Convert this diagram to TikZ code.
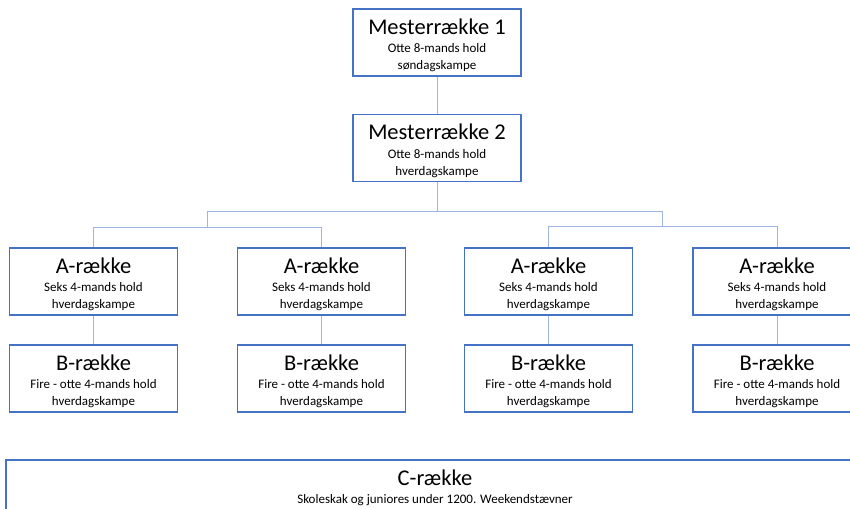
\documentclass[tikz,border=0pt]{standalone}
\usepackage{fontspec}
\setmainfont{Carlito}
\definecolor{boxblue}{HTML}{4472C4}
\definecolor{connblue}{HTML}{9DB5E0}
\newcommand{\bxt}[3]{\parbox{166pt}{\centering\vspace*{6pt}\fontsize{22.5}{25}\selectfont #1\par\vspace{1.5pt}\fontsize{13}{17}\selectfont #2\\#3\par}}
\newcommand{\bxc}[2]{\parbox{800pt}{\centering\fontsize{22.5}{25}\selectfont #1\par\vspace{1pt}\fontsize{13}{17}\selectfont #2\par}}
\tikzset{
  orgbox/.style={draw=boxblue, line width=1.8pt, fill=white, minimum width=168pt, minimum height=67pt, inner sep=0pt, align=center},
  conn/.style={draw=connblue, line width=1pt}
}
\begin{document}
\begin{tikzpicture}[x=1pt,y=-1pt]
\useasboundingbox (0,0) rectangle (850,508);
\clip (0,0) rectangle (850,508);
\fill[white] (0,0) rectangle (850,508);
% top
\node[orgbox] (m1) at (437,42.5) {\bxt{Mesterrække 1}{Otte 8-mands hold}{søndagskampe}};
\node[orgbox] (m2) at (437,148) {\bxt{Mesterrække 2}{Otte 8-mands hold}{hverdagskampe}};
% A row
\node[orgbox] (a1) at (93.5,281.5) {\bxt{A-række}{Seks 4-mands hold}{hverdagskampe}};
\node[orgbox] (a2) at (321.5,281.5) {\bxt{A-række}{Seks 4-mands hold}{hverdagskampe}};
\node[orgbox] (a3) at (548.5,281.5) {\bxt{A-række}{Seks 4-mands hold}{hverdagskampe}};
\node[orgbox] (a4) at (777,281.5) {\bxt{A-række}{Seks 4-mands hold}{hverdagskampe}};
% B row
\node[orgbox] (b1) at (93.5,378.5) {\bxt{B-række}{Fire - otte 4-mands hold}{hverdagskampe}};
\node[orgbox] (b2) at (321.5,378.5) {\bxt{B-række}{Fire - otte 4-mands hold}{hverdagskampe}};
\node[orgbox] (b3) at (548.5,378.5) {\bxt{B-række}{Fire - otte 4-mands hold}{hverdagskampe}};
\node[orgbox] (b4) at (777,378.5) {\bxt{B-række}{Fire - otte 4-mands hold}{hverdagskampe}};
% C row
\node[orgbox, minimum width=858pt, minimum height=56pt, anchor=north] (c) at (435,459) {\bxc{C-række}{Skoleskak og juniores under 1200. Weekendstævner}};
% bus coordinates
\coordinate (busL) at (207,211);
\coordinate (busR) at (662,211);
\coordinate (subL) at (207,227);
\coordinate (subR) at (662,226);
% connectors
\draw[conn] (m1.south) -- (m2.north);
\draw[conn] (m2.south) -- (m2.south |- busL);
\draw[conn] (busL) -- (busR);
\draw[conn] (busL) -- (subL);
\draw[conn] (busR) -- (subR);
\draw[conn] (a1.north) -- (a1.north |- subL) -- (a2.north |- subL) -- (a2.north);
\draw[conn] (a3.north) -- (a3.north |- subR) -- (a4.north |- subR) -- (a4.north);
\draw[conn] (a1) -- (b1);
\draw[conn] (a2) -- (b2);
\draw[conn] (a3) -- (b3);
\draw[conn] (a4) -- (b4);
\end{tikzpicture}
\end{document}
